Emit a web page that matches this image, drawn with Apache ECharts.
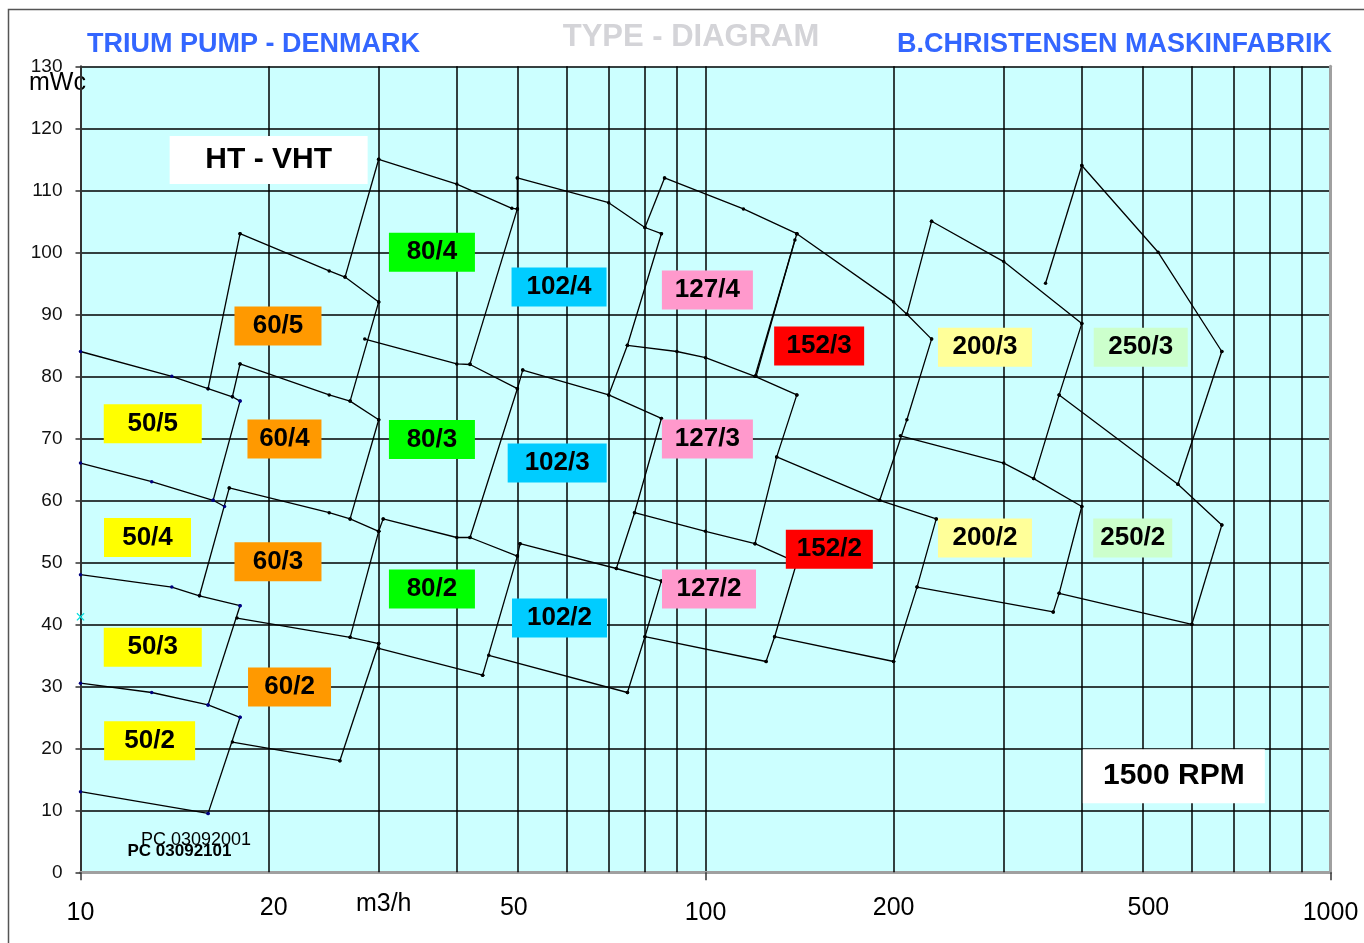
<!DOCTYPE html>
<html>
<head>
<meta charset="utf-8">
<title>Trium pump type diagram</title>
<script src="https://cdn.jsdelivr.net/npm/echarts@6/dist/echarts.min.js"></script>
<style>
  html, body { margin: 0; padding: 0; background: #fff; }
  #chart { width: 1364px; height: 943px; }
</style>
</head>
<body>
<div id="chart"></div>
<script>
// flow Q (m3/h) and head H (mWc), one polyline per curve or edge
const pump50 = [
  [[10, 84], [14, 80], [16, 78], [17.5, 76.7], [18, 76]],
  [[18, 76], [16.3, 60]],
  [[10, 66], [13, 63], [16.3, 60], [17, 59]],
  [[10, 48], [14, 46], [15.5, 44.6], [18, 43]],
  [[18, 43], [16, 27]],
  [[10, 30.5], [13, 29], [16, 27], [18, 25]],
  [[18, 25], [16, 9.5]],
  [[10, 13], [16, 9.5]]
]
const pump60 = [
  [[18, 103], [25, 97], [26.5, 96], [30, 92]],
  [[16, 78], [18, 103]],
  [[30, 92], [27, 76]],
  [[17.5, 76.7], [18, 82]],
  [[18, 82], [25, 77], [27, 76], [30, 73]],
  [[30, 73], [27, 57]],
  [[17.3, 62], [25, 58], [27, 57], [30, 55]],
  [[17.3, 62], [15.5, 44.6]],
  [[30, 55], [27, 37.9]],
  [[17.8, 41], [27, 37.9], [30, 36.9]],
  [[30, 36.9], [26, 18]],
  [[17.5, 21], [26, 18]]
]
const pump80 = [
  [[26.5, 96], [30, 115]],
  [[30, 115], [40, 111], [49, 107.1], [50, 107]],
  [[50, 107], [42, 82]],
  [[28.5, 86], [40, 82], [42, 81.9], [50, 78]],
  [[30.5, 57], [30, 55]],
  [[30.5, 57], [40, 54], [42, 54], [50, 51]],
  [[50, 51], [44, 31.8]],
  [[30, 36.1], [44, 31.8]]
]
const pump102 = [
  [[50, 112], [70, 108], [80, 104], [85, 103]],
  [[50, 112], [50, 107]],
  [[85, 103], [75, 85], [70, 77]],
  [[51, 81], [70, 77], [85, 73.2]],
  [[51, 81], [50, 78], [42, 54]],
  [[85, 73.2], [77, 58], [72, 49]],
  [[50.5, 53], [72, 49], [85, 47]],
  [[50.5, 53], [50, 51]],
  [[85, 47], [80, 38], [75, 29]],
  [[45, 35], [75, 29]]
]
const pump127 = [
  [[86, 112], [115, 107], [140, 103]],
  [[86, 112], [80, 104]],
  [[140, 103], [120, 80]],
  [[75, 85], [90, 84], [100, 83], [120, 80], [140, 77]],
  [[140, 77], [130, 67], [120, 53]],
  [[77, 58], [100, 55], [120, 53], [140, 50]],
  [[140, 50], [129, 38], [125, 34]],
  [[80, 38], [125, 34]]
]
const pump152 = [
  [[140, 103], [200, 92], [210, 90], [230, 86]],
  [[139, 102], [120.5, 80]],
  [[230, 86], [210, 73], [190, 60]],
  [[130, 67], [190, 60], [234, 57]],
  [[234, 57], [218, 46], [200, 34]],
  [[129, 38], [200, 34]]
]
const pump200 = [
  [[230, 105], [300, 98.5], [400, 88.5]],
  [[230, 105], [210, 90]],
  [[400, 88.5], [368, 77], [335, 63.5]],
  [[205, 70.4], [300, 66], [335, 63.5], [400, 59]],
  [[400, 59], [368, 45], [360, 42]],
  [[218, 46], [360, 42]]
]
const pump250 = [
  [[350, 95], [400, 114]],
  [[400, 114], [530, 100], [670, 84]],
  [[670, 84], [570, 62.6]],
  [[368, 77], [570, 62.6], [670, 56]],
  [[670, 56], [600, 40]],
  [[368, 45], [600, 40]]
]

// type boxes: name, Q, H of the box centre
const typeLabels = [
  ['80/4', 36.5, 100], ['60/5', 20.7, 88.1], ['102/4', 58.3, 94.4], ['127/4', 100.7, 93.9],
  ['152/3', 152, 84.9], ['200/3', 280, 84.7], ['250/3', 497, 84.7],
  ['50/5', 13.05, 72.35], ['60/4', 21.2, 69.9], ['80/3', 36.5, 69.8], ['102/3', 57.9, 66],
  ['127/3', 100.7, 69.9], ['50/4', 12.8, 54], ['60/3', 20.7, 50.1], ['80/2', 36.5, 45.7],
  ['152/2', 157.8, 52.1], ['200/2', 280, 53.9], ['250/2', 482.6, 53.9], ['127/2', 101.3, 45.7],
  ['102/2', 58.4, 41], ['50/3', 13.05, 36.3], ['60/2', 21.6, 29.9], ['50/2', 12.9, 21.2]
]
const notes = [['HT - VHT', 20, 114.9], ['1500 RPM', 561.5, 15.5]]
const stamps = [['PC 03092001', 15.3, 5.2], ['PC 03092101', 14.4, 3.4]]
const crossMark = [[10, 41.2]]

const minorGrid = [20, 30, 40, 50, 60, 70, 80, 90, 200, 300, 400, 500, 600, 700, 800, 900]
const xExtraTicks = [20, 50, 200, 500]

const font = "'Liberation Sans', Arial, sans-serif"
const familyColor = {
  50: '#FFFF00', 60: '#FF9900', 80: '#00FF00', 102: '#00CCFF',
  127: '#FF99CC', 152: '#FF0000', 200: '#FFFF99', 250: '#CCFFCC'
}
const boxWidth = {
  '80/4': 86, '60/5': 87, '102/4': 95, '127/4': 91, '152/3': 90, '200/3': 94, '250/3': 94,
  '50/5': 98, '60/4': 74, '80/3': 86, '102/3': 99, '127/3': 91, '50/4': 87, '60/3': 87,
  '80/2': 86, '152/2': 87, '200/2': 94, '250/2': 79, '127/2': 94, '102/2': 95, '50/3': 98,
  '60/2': 83, '50/2': 91
}
const noteBox = { 'HT - VHT': [198, 48], '1500 RPM': [182, 54] }
const tickShift = { 20: 5, 50: -3.5, 200: 0, 500: 6 }

const families = [
  ['50', pump50], ['60', pump60], ['80', pump80], ['102', pump102],
  ['127', pump127], ['152', pump152], ['200', pump200], ['250', pump250]
]

let series = []

// minor log grid lines
series.push({
  type: 'line',
  data: [[10, 0]],
  symbol: 'none',
  lineStyle: { width: 0 },
  silent: true,
  z: 1,
  markLine: {
    silent: true,
    symbol: 'none',
    animation: false,
    label: { show: false },
    lineStyle: { color: '#000', width: 1.5, type: 'solid' },
    emphasis: { disabled: true },
    data: minorGrid.map((v) => ({ xAxis: v })),
  },
})

families.forEach(([fam, lines]) => {
  lines.forEach((pts) => {
    series.push({
      name: 'Trium ' + fam,
      type: 'line',
      data: pts,
      z: 3,
      symbol: 'circle',
      symbolSize: 3.5,
      showSymbol: true,
      silent: true,
      lineStyle: { color: '#000', width: 1.3 },
      itemStyle: { color: fam === '50' ? '#000080' : '#000' },
      emphasis: { disabled: true },
    })
  })
})

series.push({
  type: 'scatter',
  data: crossMark,
  symbol: 'path://M0,1L1,0L5,4L9,0L10,1L6,5L10,9L9,10L5,6L1,10L0,9L4,5Z',
  symbolSize: 8,
  itemStyle: { color: '#00DDDD', opacity: 1 },
  silent: true,
  z: 4,
})

series.push({
  type: 'scatter',
  symbolSize: 0,
  silent: true,
  z: 6,
  itemStyle: { opacity: 1 },
  emphasis: { disabled: true },
  data: typeLabels.map(([name, q, h]) => ({
    name: name,
    value: [q, h],
    label: {
      show: true,
      position: 'inside',
      formatter: name,
      width: boxWidth[name],
      height: 39,
      lineHeight: 39,
      align: 'center',
      verticalAlign: 'middle',
      backgroundColor: familyColor[name.split('/')[0]],
      color: '#000',
      fontSize: 26,
      fontWeight: 'bold',
      fontFamily: font,
      opacity: 1,
    },
  })),
})

series.push({
  type: 'scatter',
  symbolSize: 0,
  silent: true,
  z: 6,
  itemStyle: { opacity: 1 },
  emphasis: { disabled: true },
  data: notes.map(([name, q, h]) => ({
    name: name,
    value: [q, h],
    label: {
      show: true,
      position: 'inside',
      formatter: name,
      width: noteBox[name][0],
      height: noteBox[name][1],
      lineHeight: noteBox[name][1],
      align: 'center',
      verticalAlign: 'middle',
      backgroundColor: '#fff',
      color: '#000',
      fontSize: 30,
      fontWeight: 'bold',
      fontFamily: font,
      opacity: 1,
    },
  })),
})

series.push({
  type: 'scatter',
  symbolSize: 0,
  silent: true,
  z: 6,
  itemStyle: { opacity: 1 },
  emphasis: { disabled: true },
  data: stamps.map(([name, q, h], i) => ({
    name: name,
    value: [q, h],
    label: {
      show: true,
      position: 'inside',
      formatter: name,
      color: '#000',
      fontSize: i === 0 ? 18 : 17,
      fontWeight: i === 0 ? 'normal' : 'bold',
      fontFamily: font,
      opacity: 1,
    },
  })),
})

const option = {
  animation: false,
  backgroundColor: '#fff',
  grid: {
    left: 80.5,
    right: 33.5,
    top: 66.3,
    bottom: 70.7,
    show: true,
    backgroundColor: '#CCFFFF',
    borderWidth: 0,
    containLabel: false,
    outerBoundsMode: 'none',
  },
  xAxis: [
    {
      type: 'log',
      logBase: 10,
      min: 10,
      max: 1000,
      axisLine: { show: true, lineStyle: { color: '#333', width: 2 } },
      axisTick: { show: true, inside: false, length: 8, lineStyle: { color: '#333', width: 1.5 } },
      axisLabel: {
        margin: 28,
        color: '#000',
        fontSize: 25,
        fontFamily: font,
        formatter: (v) => String(Math.round(v)),
      },
      splitLine: { show: true, lineStyle: { color: '#000', width: 1.5 } },
    },
    {
      type: 'log',
      logBase: 10,
      min: 10,
      max: 1000,
      position: 'top',
      axisLine: { show: true, lineStyle: { color: '#A0A0A0', width: 3 } },
      axisTick: { show: false },
      axisLabel: { show: false },
      splitLine: { show: false },
    },
  ],
  yAxis: [
    {
      type: 'value',
      min: 0,
      max: 130,
      interval: 10,
      axisLine: { show: true, lineStyle: { color: '#333', width: 2 } },
      axisTick: { show: true, inside: false, length: 5, lineStyle: { color: '#333', width: 1.5 } },
      axisLabel: { margin: 18, color: '#111', fontSize: 19, fontFamily: font },
      splitLine: { show: true, lineStyle: { color: '#000', width: 1.5 } },
    },
    {
      type: 'value',
      min: 0,
      max: 130,
      interval: 10,
      position: 'right',
      axisLine: { show: true, lineStyle: { color: '#A0A0A0', width: 3 } },
      axisTick: { show: false },
      axisLabel: { show: false },
      splitLine: { show: false },
    },
  ],
  series: series,
}

const chart = echarts.init(document.getElementById('chart'))
chart.setOption(option)

const px = (q, h) => chart.convertToPixel({ gridIndex: 0 }, [q, h])

let graphics = [
  {
    type: 'rect',
    silent: true,
    z: -10,
    shape: { x: 8.5, y: 9.5, width: 1420, height: 1000 },
    style: { fill: 'none', stroke: '#555', lineWidth: 1.5 },
  },
  {
    type: 'text',
    silent: true,
    style: {
      text: 'TRIUM PUMP - DENMARK', x: 87, y: 45, textAlign: 'left', textVerticalAlign: 'middle',
      fontSize: 27, fontWeight: 'bold', fontFamily: font, fill: '#3366FF',
    },
  },
  {
    type: 'text',
    silent: true,
    style: {
      text: 'TYPE - DIAGRAM', x: 691, y: 37, textAlign: 'center', textVerticalAlign: 'middle',
      fontSize: 31, fontWeight: 'bold', fontFamily: font, fill: '#D4D4D8',
    },
  },
  {
    type: 'text',
    silent: true,
    style: {
      text: 'B.CHRISTENSEN MASKINFABRIK', x: 1332, y: 45, textAlign: 'right', textVerticalAlign: 'middle',
      fontSize: 27, fontWeight: 'bold', fontFamily: font, fill: '#3366FF',
    },
  },
]

xExtraTicks.forEach((v) => {
  const p = px(v, 0)
  graphics.push({
    type: 'text',
    silent: true,
    style: {
      text: String(v), x: p[0] + tickShift[v], y: p[1] + 36, textAlign: 'center', textVerticalAlign: 'middle',
      fontSize: 25, fontFamily: font, fill: '#000',
    },
  })
})

const unitPos = px(30, 0)
graphics.push({
  type: 'text',
  silent: true,
  style: {
    text: 'm3/h', x: unitPos[0] + 5, y: unitPos[1] + 32, textAlign: 'center', textVerticalAlign: 'middle',
    fontSize: 25, fontFamily: font, fill: '#000',
  },
})

const topLeft = px(10, 130)
graphics.push({
  type: 'text',
  silent: true,
  style: {
    text: 'mWc', x: topLeft[0] - 23, y: topLeft[1] + 17, textAlign: 'center', textVerticalAlign: 'middle',
    fontSize: 25, fontFamily: font, fill: '#000',
  },
})

chart.setOption({ graphic: graphics })
</script>
</body>
</html>
